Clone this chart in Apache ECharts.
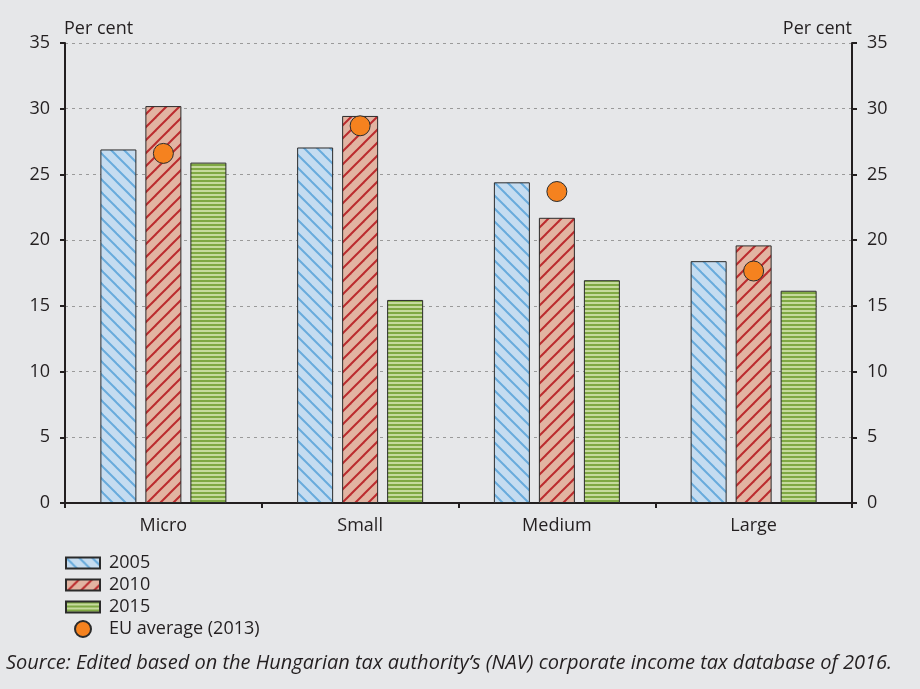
<!DOCTYPE html>
<html>
<head>
<meta charset="utf-8">
<script src="https://cdn.jsdelivr.net/npm/echarts@6/dist/echarts.min.js"></script>
<style>
html,body{margin:0;padding:0;background:#e6e7e9;}
#chart{width:920px;height:689px;}
</style>
</head>
<body>
<div id="chart"></div>
<script>
var categories = ['Micro', 'Small', 'Medium', 'Large'];
var values2005 = [26.9, 27.05, 24.4, 18.4];
var values2010 = [30.2, 29.45, 21.7, 19.6];
var values2015 = [25.9, 15.45, 16.95, 16.15];
var valuesEU = [26.6, 28.7, 23.7, 17.65];
var yTicks = [0, 5, 10, 15, 20, 25, 30, 35];
var seriesNames = ['2005', '2010', '2015', 'EU average (2013)'];
var sourceText = 'Source: Edited based on the Hungarian tax authority\u2019s (NAV) corporate income tax database of 2016.';

function diagPattern(fill, line, dir) {
  var s = 13;
  var c = document.createElement('canvas');
  c.width = s; c.height = s;
  var g = c.getContext('2d');
  g.fillStyle = fill; g.fillRect(0, 0, s, s);
  g.strokeStyle = line; g.lineWidth = 2;
  for (var k = -1; k <= 1; k++) {
    g.beginPath();
    if (dir === 'back') { g.moveTo(k * s - 1, -1); g.lineTo(k * s + s + 1, s + 1); }
    else { g.moveTo(k * s - 1, s + 1); g.lineTo(k * s + s + 1, -1); }
    g.stroke();
  }
  return { image: c, repeat: 'repeat' };
}
function stripePattern(dark, light) {
  var c = document.createElement('canvas');
  c.width = 4; c.height = 4;
  var g = c.getContext('2d');
  g.fillStyle = light; g.fillRect(0, 0, 4, 4);
  g.fillStyle = dark; g.fillRect(0, 0, 4, 2);
  return { image: c, repeat: 'repeat' };
}

var font = '"Open Sans", sans-serif';
var txt = '#231f20';
var chart = echarts.init(document.getElementById('chart'));
var yMin = yTicks[0], yMax = yTicks[yTicks.length - 1], yInt = yTicks[1] - yTicks[0];

var barBase = { type: 'bar', barWidth: 36, barGap: '25%', yAxisIndex: 0 };
chart.setOption({
  backgroundColor: '#e6e7e9',
  textStyle: { fontFamily: font, color: txt },
  animation: false,
  grid: { left: 65, right: 68, top: 43, bottom: 186 },
  xAxis: {
    type: 'category', data: categories,
    axisLine: { lineStyle: { color: txt, width: 2 } },
    axisTick: { show: true, length: 5, lineStyle: { color: txt, width: 2 } },
    axisLabel: { fontSize: 18, color: txt, margin: 14, fontFamily: font }
  },
  yAxis: [{
    type: 'value', min: yMin, max: yMax, interval: yInt, position: 'left',
    name: 'Per cent', nameLocation: 'end', nameGap: 14,
    nameTextStyle: { fontSize: 18, color: txt, align: 'left', verticalAlign: 'middle', padding: [0, 0, 0, -1], fontFamily: font },
    axisLine: { show: true, lineStyle: { color: txt, width: 2 } },
    axisTick: { show: true, length: 5, lineStyle: { color: txt, width: 2 } },
    axisLabel: { fontSize: 18, color: txt, margin: 15, fontFamily: font },
    splitLine: { show: true, lineStyle: { color: '#9a9a9a', type: [3, 4], width: 1 } }
  }, {
    type: 'value', min: yMin, max: yMax, interval: yInt, position: 'right',
    name: 'Per cent', nameLocation: 'end', nameGap: 14,
    nameTextStyle: { fontSize: 18, color: txt, align: 'right', verticalAlign: 'middle', fontFamily: font },
    axisLine: { show: true, lineStyle: { color: txt, width: 2 } },
    axisTick: { show: true, length: 5, lineStyle: { color: txt, width: 2 } },
    axisLabel: { fontSize: 18, color: txt, margin: 15, fontFamily: font },
    splitLine: { show: false }
  }],
  legend: [{
    data: seriesNames.slice(0, 3), orient: 'vertical', left: 65, top: 552, padding: 0,
    itemWidth: 34, itemHeight: 11, itemGap: 0, icon: 'rect',
    textStyle: { fontSize: 18, color: txt, lineHeight: 22, padding: [0, 0, 0, 4], fontFamily: font }
  }, {
    data: [seriesNames[3]], orient: 'vertical', left: 74, top: 618, padding: 0,
    itemWidth: 16, itemHeight: 16, itemGap: 0, icon: 'circle',
    textStyle: { fontSize: 18, color: txt, lineHeight: 22, padding: [0, 0, 0, 13], fontFamily: font }
  }],
  graphic: [{
    type: 'text', left: 6, top: 653,
    style: { text: sourceText, font: 'italic 20px ' + font, fill: txt }
  }],
  series: [
    Object.assign({}, barBase, { name: seriesNames[0], data: values2005,
      itemStyle: { color: diagPattern('#c5dcf0', '#68abdc', 'back'), borderColor: '#2b2b2b', borderWidth: 1 } }),
    Object.assign({}, barBase, { name: seriesNames[1], data: values2010,
      itemStyle: { color: diagPattern('#e2b4a2', '#bb2b2e', 'fwd'), borderColor: '#2b2b2b', borderWidth: 1 } }),
    Object.assign({}, barBase, { name: seriesNames[2], data: values2015,
      itemStyle: { color: stripePattern('#7fa843', '#c6da9d'), borderColor: '#2b2b2b', borderWidth: 1 } }),
    { type: 'scatter', name: seriesNames[3], data: valuesEU, yAxisIndex: 0, symbolSize: 20, z: 5,
      itemStyle: { color: '#f5821f', borderColor: '#2b2b2b', borderWidth: 1, opacity: 1 } }
  ]
});
</script>
</body>
</html>
